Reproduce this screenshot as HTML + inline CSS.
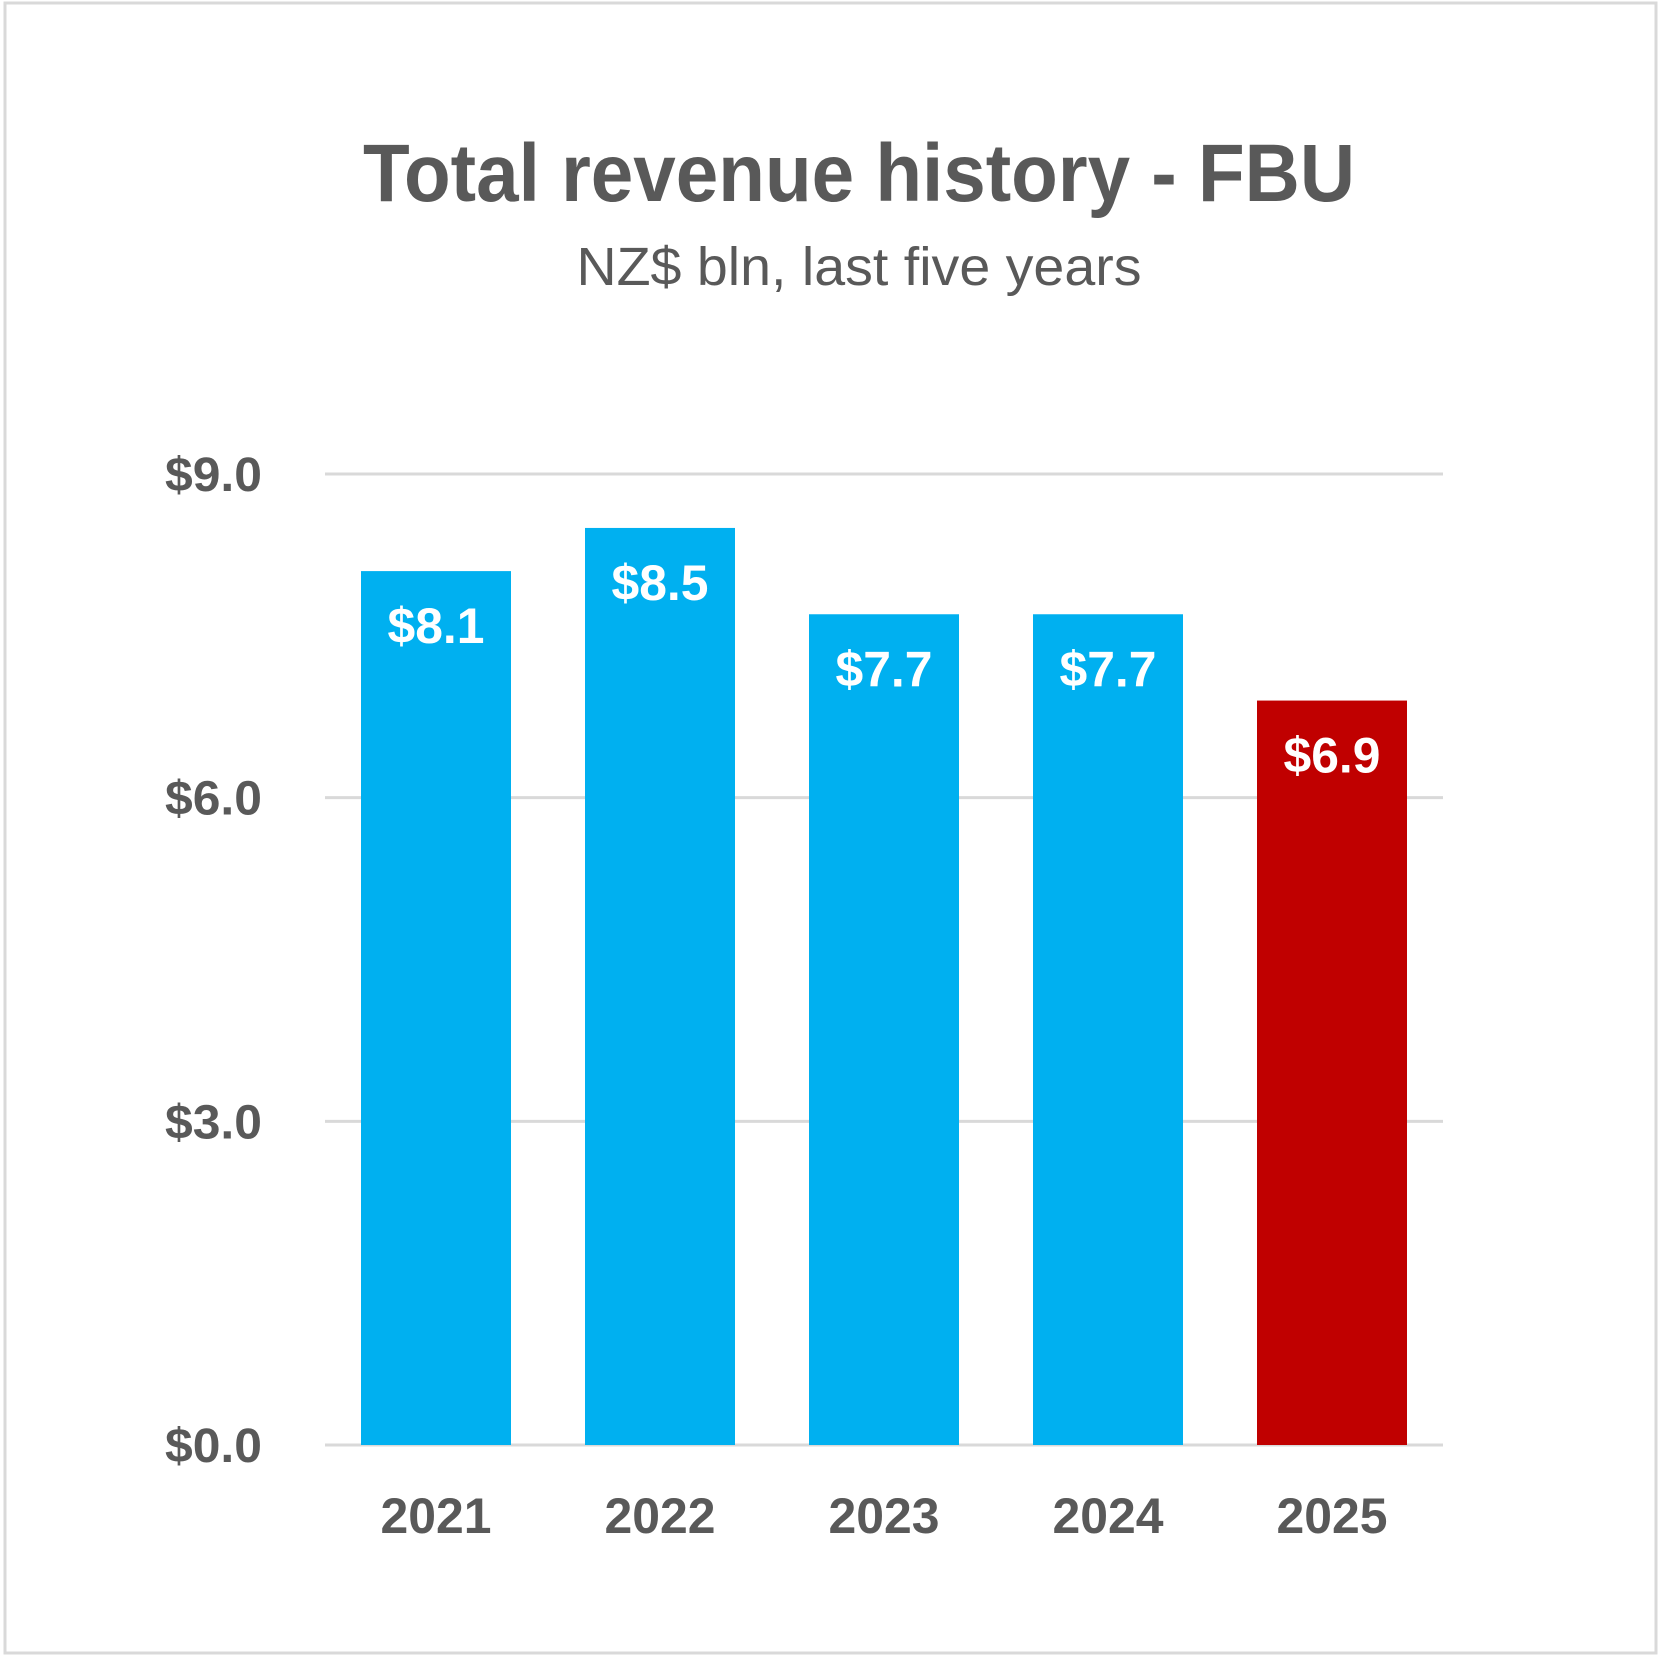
<!DOCTYPE html>
<html><head><meta charset="utf-8"><style>
html,body{margin:0;padding:0;background:#fff;}
svg{display:block;font-family:"Liberation Sans",Arial,sans-serif;}
</style></head><body>
<svg id="chart" width="1663" height="1659" viewBox="0 0 1663 1659">
<rect x="5" y="3" width="1651" height="1650" fill="#fff" stroke="#d9d9d9" stroke-width="3"/>
<text x="859" y="201" text-anchor="middle" font-size="82" font-weight="bold" fill="#595959" textLength="992" lengthAdjust="spacingAndGlyphs">Total revenue history - FBU</text>
<text x="859" y="285" text-anchor="middle" font-size="54" fill="#595959" textLength="565" lengthAdjust="spacingAndGlyphs">NZ$ bln, last five years</text>
<g id="grid"></g><g id="bars"></g><g id="labels"></g>
</svg>
<script>
const categories = ["2021","2022","2023","2024","2025"];
const values = [8.1, 8.5, 7.7, 7.7, 6.9];
const valueLabels = ["$8.1","$8.5","$7.7","$7.7","$6.9"];
const ticks = [0,3,6,9];
const tickLabels = ["$0.0","$3.0","$6.0","$9.0"];
const NS="http://www.w3.org/2000/svg";
const y0=1445, yTop=474, plotL=325, plotR=1443, x0=361, step=224, bw=150;
function y(v){return y0-(v/9)*(y0-yTop);}
function x(i){return x0+i*step;}
const grid=document.getElementById('grid'), bars=document.getElementById('bars'), labels=document.getElementById('labels');
ticks.forEach((t,i)=>{
  const l=document.createElementNS(NS,'line');
  l.setAttribute('x1',plotL);l.setAttribute('x2',plotR);l.setAttribute('y1',y(t));l.setAttribute('y2',y(t));
  l.setAttribute('stroke','#d9d9d9');l.setAttribute('stroke-width','3');
  
  
  grid.appendChild(l);
  const tx=document.createElementNS(NS,'text');
  tx.setAttribute('x',262);tx.setAttribute('y',y(t)+17);tx.setAttribute('text-anchor','end');
  tx.setAttribute('font-size','48');tx.setAttribute('font-weight','bold');tx.setAttribute('fill','#595959');
  tx.setAttribute('textLength','97');tx.setAttribute('lengthAdjust','spacingAndGlyphs');
  tx.textContent=tickLabels[i];
  
  
  labels.appendChild(tx);
});
categories.forEach((c,i)=>{
  const r=document.createElementNS(NS,'rect');
  r.setAttribute('x',x(i));r.setAttribute('width',bw);r.setAttribute('y',y(values[i]));r.setAttribute('height',y0-y(values[i]));
  r.setAttribute('fill',i===categories.length-1?'#c00000':'#00b0f0');
  
  
  bars.appendChild(r);
  const v=document.createElementNS(NS,'text');
  v.setAttribute('x',x(i)+bw/2);v.setAttribute('y',y(values[i])+72);v.setAttribute('text-anchor','middle');
  v.setAttribute('font-size','50');v.setAttribute('font-weight','bold');v.setAttribute('fill','#fff');
  v.setAttribute('textLength','97');v.setAttribute('lengthAdjust','spacingAndGlyphs');
  v.textContent=valueLabels[i];
  
  
  labels.appendChild(v);
  const cl=document.createElementNS(NS,'text');
  cl.setAttribute('x',x(i)+bw/2);cl.setAttribute('y',1533);cl.setAttribute('text-anchor','middle');
  cl.setAttribute('font-size','50');cl.setAttribute('font-weight','bold');cl.setAttribute('fill','#595959');
  cl.setAttribute('textLength','111');cl.setAttribute('lengthAdjust','spacingAndGlyphs');
  cl.textContent=c;
  
  
  labels.appendChild(cl);
});
</script>
</body></html>
